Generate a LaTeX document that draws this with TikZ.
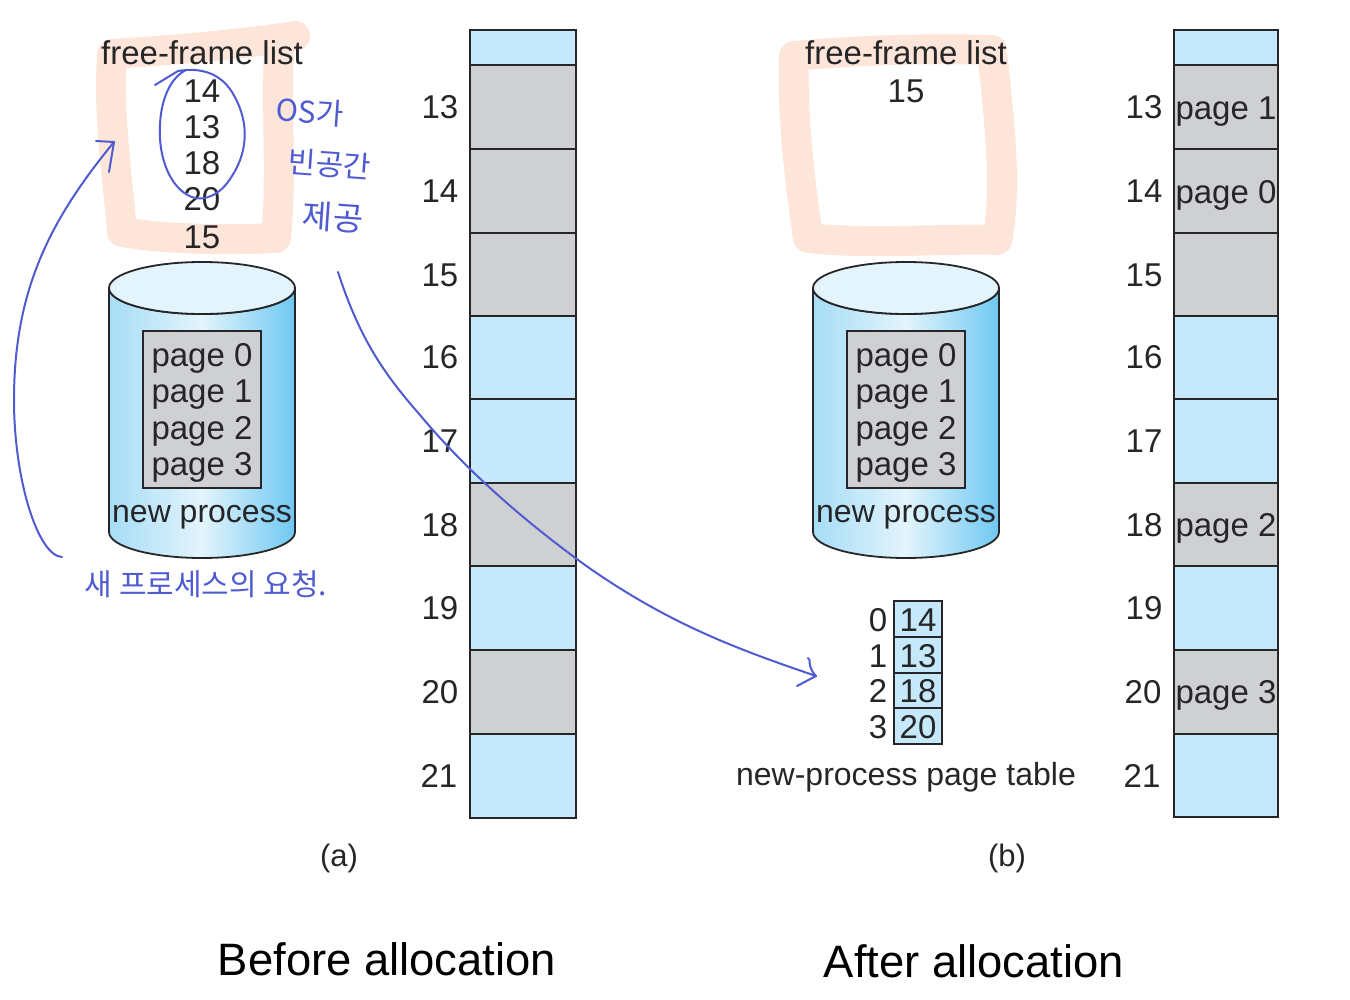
\documentclass[tikz,border=0pt]{standalone}
\usepackage{fontspec}
\setmainfont{Liberation Sans}
\newfontfamily\krfont{Noto Sans CJK KR}
\definecolor{peach}{HTML}{FDE6D9}
\definecolor{frameblue}{HTML}{C5E8FB}
\definecolor{framegray}{HTML}{CFD0D2}
\definecolor{ink}{HTML}{262628}
\definecolor{pen}{HTML}{4F5BD0}
\definecolor{cylL}{HTML}{A6DDF6}
\definecolor{cylM}{HTML}{E3F4FC}
\definecolor{cylR}{HTML}{6FC8F2}
\tikzset{
  x=1pt,y=-1pt,
  lbl/.style={font=\fontsize{33}{36}\selectfont,text=ink,inner sep=0pt,anchor=base,yshift=-11.8pt},
  lblsm/.style={lbl,font=\fontsize{32}{36}\selectfont},
  capt/.style={font=\fontsize{31}{34}\selectfont,text=ink,inner sep=0pt},
  big/.style={font=\fontsize{45.4}{50}\selectfont,text=black,inner sep=0pt},
  hand/.style={font=\krfont\fontsize{30}{34}\selectfont,text=pen,inner sep=0pt},
  fr/.style={draw=ink,line width=1.8pt},
  hl/.style={draw=peach,line width=30pt,line cap=round,line join=round},
  penline/.style={draw=pen,line width=2pt,line cap=round,line join=round},
}
\newcommand{\framecell}[6]{% name, x0, y0, x1, y1, colour
  \path[fr,fill=#6] (#2,#3) rectangle (#4,#5);
  \coordinate (#1) at ({(#2+#4)/2},{(#3+#5)/2});}
\newcommand{\cyl}[2]{% prefix, x offset
  \begin{scope}[xshift=#2]
    \path[draw=ink,line width=1.8pt,left color=cylL,right color=cylR,middle color=cylM]
      (109,288) -- (109,532) arc[start angle=180,end angle=360,x radius=93,y radius=-26]
      -- (295,288) arc[start angle=360,end angle=180,x radius=93,y radius=-26] -- cycle;
    \path[draw=ink,line width=1.8pt,fill=cylM] (202,288) ellipse[x radius=93,y radius=26];
    \path[draw=ink,line width=1.4pt,fill=framegray] (143,331) rectangle (261,488);
    \node[lbl] (#1p0) at (202,355) {page 0};
    \node[lbl] (#1p1) at (202,391) {page 1};
    \node[lbl] (#1p2) at (202,428) {page 2};
    \node[lbl] (#1p3) at (202,464) {page 3};
    \node[lblsm] (#1np) at (202,511) {new process};
  \end{scope}}
\begin{document}
\begin{tikzpicture}
\useasboundingbox (0,0) rectangle (1350,1000);
% highlights
\path[hl] (295,36) .. controls (230,46) and (170,50) .. (112,54)
  .. controls (108,120) and (118,180) .. (122,232)
  .. controls (170,240) and (230,240) .. (276,238)
  .. controls (282,180) and (276,110) .. (279,50);
\path[hl] (992,50) .. controls (930,48) and (860,50) .. (794,56)
  .. controls (792,120) and (800,180) .. (808,238)
  .. controls (870,245) and (950,238) .. (997,240)
  .. controls (1008,190) and (998,110) .. (993,60);
% left frames
\framecell{a0}{470}{30}{576}{65}{frameblue}
\framecell{a13}{470}{65}{576}{149}{framegray}
\framecell{a14}{470}{149}{576}{233}{framegray}
\framecell{a15}{470}{233}{576}{316}{framegray}
\framecell{a16}{470}{316}{576}{399}{frameblue}
\framecell{a17}{470}{399}{576}{483}{frameblue}
\framecell{a18}{470}{483}{576}{566}{framegray}
\framecell{a19}{470}{566}{576}{650}{frameblue}
\framecell{a20}{470}{650}{576}{734}{framegray}
\framecell{a21}{470}{734}{576}{818}{frameblue}
\node[lbl] (la13) at (440,107) {13};
\node[lbl] (la14) at (440,191) {14};
\node[lbl] (la15) at (440,275) {15};
\node[lbl] (la16) at (440,357) {16};
\node[lbl] (la17) at (440,441) {17};
\node[lbl] (la18) at (440,525) {18};
\node[lbl] (la19) at (440,608) {19};
\node[lbl] (la20) at (440,692) {20};
\node[lbl] (la21) at (439,776) {21};
% right frames
\framecell{b0}{1174}{30}{1278}{65}{frameblue}
\framecell{b13}{1174}{65}{1278}{149}{framegray}
\framecell{b14}{1174}{149}{1278}{233}{framegray}
\framecell{b15}{1174}{233}{1278}{316}{framegray}
\framecell{b16}{1174}{316}{1278}{399}{frameblue}
\framecell{b17}{1174}{399}{1278}{483}{frameblue}
\framecell{b18}{1174}{483}{1278}{566}{framegray}
\framecell{b19}{1174}{566}{1278}{650}{frameblue}
\framecell{b20}{1174}{650}{1278}{734}{framegray}
\framecell{b21}{1174}{734}{1278}{817}{frameblue}
\node[lbl] (pb13) at (1226,108) {page 1};
\node[lbl] (pb14) at (1226,192) {page 0};
\node[lbl] (pb18) at (1226,525) {page 2};
\node[lbl] (pb20) at (1226,692) {page 3};
\node[lbl] (lb13) at (1144,107) {13};
\node[lbl] (lb14) at (1144,191) {14};
\node[lbl] (lb15) at (1144,275) {15};
\node[lbl] (lb16) at (1144,357) {16};
\node[lbl] (lb17) at (1144,441) {17};
\node[lbl] (lb18) at (1144,525) {18};
\node[lbl] (lb19) at (1144,608) {19};
\node[lbl] (lb20) at (1143,692) {20};
\node[lbl] (lb21) at (1142,776) {21};
% free-frame lists
\node[lbl] (ffa) at (202,53) {free-frame list};
\node[lbl] (fa14) at (202,91) {14};
\node[lbl] (fa13) at (202,127) {13};
\node[lbl] (fa18) at (202,163) {18};
\node[lbl] (fa20) at (202,199) {20};
\node[lbl] (fa15) at (202,237) {15};
\node[lbl] (ffb) at (906,53) {free-frame list};
\node[lbl] (fb15) at (906,91) {15};
% disks
\cyl{ca}{0pt}
\cyl{cb}{704pt}
% page table
\framecell{t0}{894}{601}{942}{637}{frameblue}
\framecell{t1}{894}{637}{942}{673}{frameblue}
\framecell{t2}{894}{673}{942}{708}{frameblue}
\framecell{t3}{894}{708}{942}{744}{frameblue}
\node[lbl] (tv0) at (918,620) {14};
\node[lbl] (tv1) at (918,656) {13};
\node[lbl] (tv2) at (918,691) {18};
\node[lbl] (tv3) at (918,727) {20};
\node[lbl] (ti0) at (878,620) {0};
\node[lbl] (ti1) at (878,656) {1};
\node[lbl] (ti2) at (878,691) {2};
\node[lbl] (ti3) at (878,727) {3};
\node[lblsm] (ptc) at (906,774) {new-process page table};
% captions
\node[capt] (capa) at (339,858) {(a)};
\node[capt] (capb) at (1007,858) {(b)};
\node[big] (befo) at (387,959) {Before allocation};
\node[big] (aftr) at (974,961) {After allocation};
% handwriting
\node[hand,rotate=-4] (h1) at (310,112) {OS가};
\node[hand,rotate=-4] (h2) at (330,164) {빈공간};
\node[hand,rotate=-4,font=\krfont\fontsize{33}{36}\selectfont] (h3) at (333,217) {제공};
\node[hand] (h4) at (206,584) {새 프로세스의 요청.};
% pen strokes
\path[penline] (155,85) -- (178,71) .. controls (196,68) and (218,70) .. (232,92)
  .. controls (248,118) and (250,148) .. (232,176)
  .. controls (220,196) and (205,200) .. (195,198)
  .. controls (172,192) and (158,160) .. (160,125)
  .. controls (161,100) and (170,78) .. (186,70);
\coordinate (reqS) at (62,557);
\coordinate (reqE) at (114,142);
\path[penline] (reqS) .. controls (38,556) and (14,480) .. (14,400)
  .. controls (14,290) and (50,220) .. (reqE);
\path[penline] (96,141) -- (reqE) -- (109,172);
\coordinate (osS) at (338,272);
\coordinate (osE) at (816,676);
\path[penline] (osS) .. controls (360,340) and (385,375) .. (420,415)
  .. controls (470,475) and (530,525) .. (585,565)
  .. controls (670,625) and (740,650) .. (osE);
\path[penline] (808,658) .. controls (812,660) and (806,665) .. (osE) -- (797,686);
\end{tikzpicture}
\end{document}
